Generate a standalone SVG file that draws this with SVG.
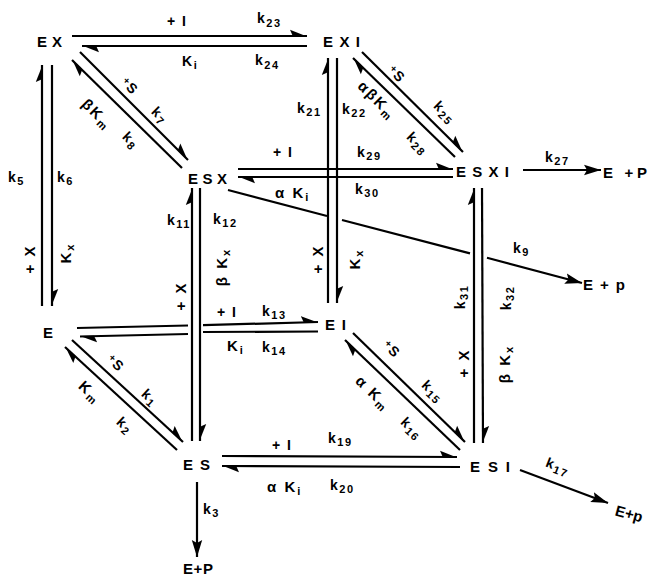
<svg xmlns="http://www.w3.org/2000/svg" width="651" height="576" viewBox="0 0 651 576">
<defs>
<style>
.n{font-family:"Liberation Sans",Arial,sans-serif;font-size:15px;font-weight:bold;fill:#000}
.l{font-family:"Liberation Sans",Arial,sans-serif;font-size:14px;font-weight:bold;fill:#000;letter-spacing:1.5px}
.g{font-family:"Liberation Sans",Arial,sans-serif;font-size:15px;font-weight:bold;fill:#000;letter-spacing:2px}
.s{font-size:11px}
.c{stroke:#000;stroke-width:2.2;fill:none}
.h{marker-end:url(#hp)}
.a{marker-end:url(#ar)}
</style>
<marker id="hp" markerUnits="userSpaceOnUse" markerWidth="18" markerHeight="10" viewBox="0 0 18 10" refX="17" refY="8" orient="auto"><path d="M17,8.5 L0,1.8 L3,8.5 Z" fill="#000"/></marker>
<marker id="ar" markerUnits="userSpaceOnUse" markerWidth="18" markerHeight="12" viewBox="0 0 18 12" refX="17" refY="6" orient="auto"><path d="M17,6 L0,0.8 L3,6 L0,11.2 Z" fill="#000"/></marker>
</defs>
<rect width="651" height="576" fill="#fff"/>

<g id="connectors">
<path class="c h" d="M72,36 L307,36"/>
<path class="c h" d="M307,46 L82,46"/>
<path class="c h" d="M80,52 L188,160"/>
<path class="c h" d="M182,168 L72,60"/>
<path class="c h" d="M42,306 L42,65"/>
<path class="c h" d="M52,65 L52,306"/>
<path class="c h" d="M362,52 L463,152"/>
<path class="c h" d="M455,157 L353,58"/>
<path class="c h" d="M328,303 L328,58"/>
<path class="c h" d="M337,58 L337,303"/>
<path class="c h" d="M238,169 L453,169"/>
<path class="c h" d="M453,177 L238,177"/>
<path class="c h" d="M192,441 L192,188"/>
<path class="c h" d="M200,188 L200,441"/>
<path class="c h" d="M77,328 L188,325.5 M203,325.2 L318,322"/>
<path class="c h" d="M318,331.5 L203,332 M188,334 L80,336.5"/>
<path class="c h" d="M72,340 L183,442"/>
<path class="c h" d="M177,450 L65,347"/>
<path class="c h" d="M353,333 L465,442"/>
<path class="c h" d="M460,450 L345,340"/>
<path class="c h" d="M474,443 L474,188"/>
<path class="c h" d="M482,188 L483,443"/>
<path class="c h" d="M222,456 L457,457"/>
<path class="c h" d="M460,467 L222,466"/>
<path class="c a" d="M228,190 L327,216 M342,220 L470,253.4 M487,257.8 L582,283"/>
<path class="c a" d="M523,170 L601,170"/>
<path class="c a" d="M197,482 L197,557"/>
<path class="c a" d="M520,470 L608,503"/>
</g>

<g id="labels">
<text class="l" x="167" y="26">+ I</text>
<text class="l" x="257" y="23">k<tspan class="s" dy="4">23</tspan></text>
<text class="l" x="182" y="66">K<tspan class="s" dy="3">i</tspan></text>
<text class="l" x="255" y="65">k<tspan class="s" dy="4">24</tspan></text>
<text class="l" text-anchor="middle" transform="translate(130,86) rotate(45)" y="5"><tspan font-size="10" dy="-3">+</tspan><tspan dy="3">S</tspan></text>
<text class="l" text-anchor="middle" transform="translate(160,115) rotate(45)" y="5">k<tspan class="s" dy="3">7</tspan></text>
<text class="g" text-anchor="middle" transform="translate(97,114) rotate(45)" y="5">βK<tspan class="s" dy="3">m</tspan></text>
<text class="l" text-anchor="middle" transform="translate(131,140) rotate(45)" y="5">k<tspan class="s" dy="3">8</tspan></text>
<text class="l" x="8" y="182">k<tspan class="s" dy="3">5</tspan></text>
<text class="l" x="57" y="182">k<tspan class="s" dy="3">6</tspan></text>
<text class="g" text-anchor="middle" transform="translate(30,259) rotate(-90)" y="5">+ X</text>
<text class="g" text-anchor="middle" transform="translate(66,253) rotate(-90)" y="5">K<tspan class="s" dy="3">x</tspan></text>
<text class="l" x="297" y="113">k<tspan class="s" dy="3">21</tspan></text>
<text class="l" x="342" y="114">k<tspan class="s" dy="3">22</tspan></text>
<text class="l" text-anchor="middle" transform="translate(397,74) rotate(45)" y="5"><tspan font-size="10" dy="-3">+</tspan><tspan dy="3">S</tspan></text>
<text class="g" text-anchor="middle" transform="translate(377,100) rotate(45)" y="5">αβK<tspan class="s" dy="3">m</tspan></text>
<text class="l" text-anchor="middle" transform="translate(445,112) rotate(45)" y="5">k<tspan class="s" dy="3">25</tspan></text>
<text class="l" text-anchor="middle" transform="translate(418,143) rotate(45)" y="5">k<tspan class="s" dy="3">28</tspan></text>
<text class="l" x="273" y="157">+ I</text>
<text class="l" x="357" y="157">k<tspan class="s" dy="3">29</tspan></text>
<text class="g" x="275" y="198">α K<tspan class="s" dy="3">i</tspan></text>
<text class="l" x="355" y="194">k<tspan class="s" dy="3">30</tspan></text>
<text class="l" x="545" y="162">k<tspan class="s" dy="3">27</tspan></text>
<text class="l" x="167" y="225">k<tspan class="s" dy="3">11</tspan></text>
<text class="l" x="213" y="224">k<tspan class="s" dy="3">12</tspan></text>
<text class="g" text-anchor="middle" transform="translate(181,296) rotate(-90)" y="5">+ X</text>
<text class="g" text-anchor="middle" transform="translate(222,267) rotate(-90)" y="5">β K<tspan class="s" dy="3">x</tspan></text>
<text class="g" text-anchor="middle" transform="translate(318,259) rotate(-90)" y="5">+ X</text>
<text class="g" text-anchor="middle" transform="translate(355,259) rotate(-90)" y="5">K<tspan class="s" dy="3">x</tspan></text>
<text class="l" x="513" y="253">k<tspan class="s" dy="3">9</tspan></text>
<text class="l" text-anchor="middle" transform="translate(460,297) rotate(-90)" y="5">k<tspan class="s" dy="3">31</tspan></text>
<text class="l" text-anchor="middle" transform="translate(506,298) rotate(-90)" y="5">k<tspan class="s" dy="3">32</tspan></text>
<text class="g" text-anchor="middle" transform="translate(464,363) rotate(-90)" y="5">+ X</text>
<text class="g" text-anchor="middle" transform="translate(505,364) rotate(-90)" y="5">β K<tspan class="s" dy="3">x</tspan></text>
<text class="l" x="217" y="317">+ I</text>
<text class="l" x="262" y="316">k<tspan class="s" dy="3">13</tspan></text>
<text class="g" x="227" y="351">K<tspan class="s" dy="3">i</tspan></text>
<text class="l" x="262" y="352">k<tspan class="s" dy="3">14</tspan></text>
<text class="l" text-anchor="middle" transform="translate(116,363) rotate(43)" y="5"><tspan font-size="10" dy="-3">+</tspan><tspan dy="3">S</tspan></text>
<text class="l" text-anchor="middle" transform="translate(150,397) rotate(43)" y="5">k<tspan class="s" dy="3">1</tspan></text>
<text class="g" text-anchor="middle" transform="translate(90,392) rotate(43)" y="5">K<tspan class="s" dy="3">m</tspan></text>
<text class="l" text-anchor="middle" transform="translate(125,425) rotate(43)" y="5">k<tspan class="s" dy="3">2</tspan></text>
<text class="l" text-anchor="middle" transform="translate(392,349) rotate(44)" y="5"><tspan font-size="10" dy="-3">+</tspan><tspan dy="3">S</tspan></text>
<text class="l" text-anchor="middle" transform="translate(433,391) rotate(44)" y="5">k<tspan class="s" dy="3">15</tspan></text>
<text class="g" text-anchor="middle" transform="translate(373,393) rotate(44)" y="5">α K<tspan class="s" dy="3">m</tspan></text>
<text class="l" text-anchor="middle" transform="translate(412,428) rotate(44)" y="5">k<tspan class="s" dy="3">16</tspan></text>
<text class="l" x="272" y="450">+ I</text>
<text class="l" x="328" y="443">k<tspan class="s" dy="3">19</tspan></text>
<text class="g" x="267" y="492">α K<tspan class="s" dy="3">i</tspan></text>
<text class="l" x="330" y="490">k<tspan class="s" dy="3">20</tspan></text>
<text class="l" text-anchor="middle" transform="translate(558,466) rotate(21)" y="5">k<tspan class="s" dy="3">17</tspan></text>
<text class="l" x="203" y="514">k<tspan class="s" dy="3">3</tspan></text>
</g>

<g id="EX"><text class="n" x="37" y="47" textLength="25" lengthAdjust="spacing">EX</text></g>
<g id="EXI"><text class="n" x="323" y="47" textLength="37" lengthAdjust="spacing">EXI</text></g>
<g id="ESX"><text class="n" x="188" y="184" textLength="39" lengthAdjust="spacing">ESX</text></g>
<g id="ESXI"><text class="n" x="456" y="177" textLength="53" lengthAdjust="spacing">ESXI</text></g>
<g id="E"><text class="n" x="43" y="338">E</text></g>
<g id="EI"><text class="n" x="325" y="330" textLength="21" lengthAdjust="spacing">EI</text></g>
<g id="ES"><text class="n" x="183" y="470" textLength="27" lengthAdjust="spacing">ES</text></g>
<g id="ESI"><text class="n" x="470" y="472" textLength="40" lengthAdjust="spacing">ESI</text></g>
<g id="P27"><text class="n" x="603" y="178" textLength="44" lengthAdjust="spacing">E +P</text></g>
<g id="P9"><text class="n" x="583" y="290" textLength="42" lengthAdjust="spacing">E + p</text></g>
<g id="P3"><text class="n" x="183" y="574" textLength="30" lengthAdjust="spacing">E+P</text></g>
<g id="P17"><text class="n" text-anchor="middle" transform="translate(629,514) rotate(15)" y="5">E+p</text></g>
</svg>
